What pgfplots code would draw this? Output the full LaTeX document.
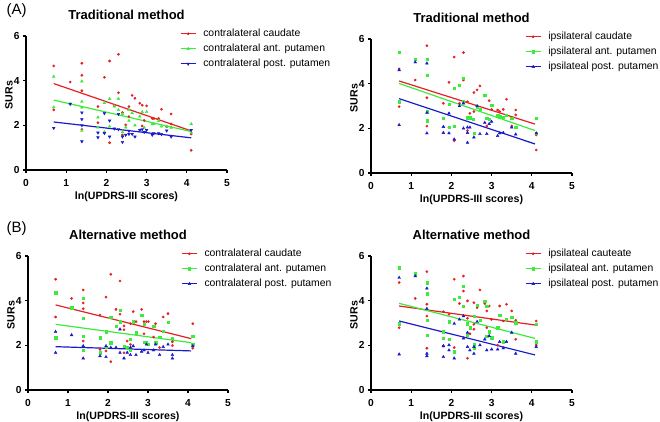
\documentclass[border=0pt]{standalone}
\usepackage{pgfplots}
\pgfplotsset{compat=1.18}
\usepackage{fontspec}
\setmainfont{Liberation Sans}
\definecolor{cred}{RGB}{232,30,36}
\definecolor{cgreen}{RGB}{60,235,60}
\definecolor{cblue}{RGB}{25,25,205}
\pgfplotsset{
  panel/.style={
    width=201pt, height=134pt, scale only axis,
    xmin=0, xmax=5, ymin=0, ymax=6,
    axis lines=left, axis line style={-, line width=1.1pt},
    xtick={0,1,...,5}, ytick={0,2,4,6},
    tick align=outside, major tick length=3pt,
    tick style={line width=1.1pt, black},
    /pgf/number format/assume math mode=true,
    ticklabel style={font=\bfseries\fontsize{10.2}{12}\selectfont},
    xticklabel style={yshift=-2.5pt},
    xlabel={ln(UPDRS-III scores)}, ylabel={SURs},
    label style={font=\bfseries\fontsize{10.6}{12}\selectfont},
    xlabel style={at={(axis description cs:0.5,-0.197)}, anchor=center},
    ylabel style={at={(axis description cs:-0.085,0.56)}, anchor=center},
    title style={at={(axis description cs:0.5,1.112)}, anchor=center,
      font=\bfseries\fontsize{13}{15}\selectfont},
    legend style={at={(axis description cs:0.766,1.055)}, anchor=north west,
      draw=none, fill=none, inner sep=0pt, row sep=5pt, column sep=7pt,
      nodes={inner sep=0pt, text height=7.5pt, text depth=2.5pt,
        font=\fontsize{10.4}{12}\selectfont},
      font=\fontsize{10.4}{12}\selectfont},
    legend cell align=left,
    legend image code/.code={
      \draw[#1, line width=1.1pt] (0pt,0pt) -- (15pt,0pt);
      \draw[#1] plot coordinates {(7.5pt,0pt)};
    },
  },
  pr/.style={only marks, mark=*, mark size=1.15pt, color=cred},
  pgt/.style={only marks, mark=triangle*, mark size=1.6pt, color=cgreen},
  pgs/.style={only marks, mark=square*, mark size=1.15pt, color=cgreen},
  pbt/.style={only marks, mark=triangle*, mark size=1.6pt, color=cblue},
  pbd/.style={only marks, mark=triangle*, mark size=1.6pt, color=cblue, mark options={rotate=180}},
  fit/.style={line width=1.2pt, forget plot, mark=none},
}
\begin{document}
\begin{tikzpicture}[x=1pt,y=1pt]
\useasboundingbox (0,0) rectangle (660,422);
\node[anchor=west, font=\fontsize{15}{17}\selectfont] at (3,411) {(A)};
\node[anchor=west, font=\fontsize{15}{17}\selectfont] at (3,193.5) {(B)};

% (A) left
\begin{axis}[panel, at={(26pt,252pt)}, anchor=south west, title={Traditional method}]
\addplot[pr] coordinates {(0.69,4.66) (0.69,2.69) (1.10,3.94) (1.39,4.78) (1.39,4.24) (1.39,3.55) (1.39,1.82) (1.79,2.84) (1.79,2.12) (1.95,4.15) (1.95,1.67) (2.08,4.88) (2.08,1.22) (2.20,2.87) (2.30,5.18) (2.30,3.46) (2.40,2.57) (2.40,1.57) (2.48,2.02) (2.56,2.84) (2.56,2.39) (2.64,3.34) (2.71,3.21) (2.83,2.99) (2.89,2.90) (2.89,1.97) (2.94,2.22) (3.00,2.87) (3.14,2.31) (3.18,2.30) (3.30,2.31) (3.37,2.72) (3.50,1.94) (3.61,2.51) (3.61,2.06) (4.11,1.61) (4.11,0.88)};
\addlegendentry{contralateral caudate}
\addplot[pgt] coordinates {(0.69,4.18) (0.69,2.81) (1.10,2.95) (1.39,3.97) (1.39,3.06) (1.39,2.80) (1.39,1.76) (1.79,2.36) (1.79,1.91) (1.95,3.00) (1.95,1.70) (2.08,3.19) (2.08,1.95) (2.20,2.85) (2.30,3.19) (2.30,2.69) (2.40,2.50) (2.40,1.70) (2.48,1.91) (2.56,2.69) (2.56,2.21) (2.64,2.55) (2.71,2.00) (2.83,2.40) (2.89,2.60) (2.94,1.90) (3.00,2.60) (3.14,2.05) (3.18,2.06) (3.30,2.20) (3.37,1.95) (3.50,1.95) (3.61,1.90) (4.11,2.06) (4.11,1.67)};
\addlegendentry{contralateral ant. putamen}
\addplot[pbd] coordinates {(0.69,1.88) (1.10,2.96) (1.39,2.57) (1.39,2.27) (1.39,2.00) (1.39,1.28) (1.79,1.67) (1.79,1.46) (1.95,2.54) (1.95,1.65) (2.08,2.21) (2.08,1.49) (2.20,1.85) (2.30,2.50) (2.30,1.82) (2.40,1.25) (2.40,1.49) (2.48,1.57) (2.56,1.61) (2.56,1.75) (2.64,1.61) (2.71,1.49) (2.83,1.79) (2.89,1.82) (2.94,1.70) (3.00,1.79) (3.14,1.57) (3.18,1.64) (3.30,1.64) (3.37,1.60) (3.50,1.76) (3.61,1.49) (4.11,1.79)};
\addlegendentry{contralateral post. putamen}
\addplot[fit, cred] coordinates {(0.69,3.87) (4.11,1.75)};
\addplot[fit, cgreen] coordinates {(0.69,3.13) (4.11,1.72)};
\addplot[fit, cblue] coordinates {(0.69,2.15) (4.11,1.44)};
\end{axis}

% (A) right
\begin{axis}[panel, at={(371pt,249pt)}, anchor=south west, title={Traditional method}]
\addplot[pr] coordinates {(0.70,4.66) (0.70,2.97) (1.10,4.16) (1.39,5.70) (1.39,3.37) (1.39,2.10) (1.80,3.12) (1.94,4.06) (1.94,2.04) (2.07,5.19) (2.07,1.45) (2.20,3.12) (2.30,5.39) (2.30,4.16) (2.40,3.19) (2.40,1.90) (2.46,2.67) (2.56,3.60) (2.56,2.75) (2.64,3.72) (2.71,3.90) (2.83,3.45) (2.88,2.10) (2.94,3.24) (3.00,2.85) (3.15,2.82) (3.20,2.75) (3.29,2.85) (3.37,3.30) (3.50,2.10) (3.60,2.82) (3.60,2.60) (4.11,1.70) (4.11,1.03)};
\addlegendentry{ipsilateral caudate}
\addplot[pgs] coordinates {(0.70,5.40) (0.70,3.19) (1.10,5.09) (1.39,5.09) (1.39,4.37) (1.39,2.75) (1.39,2.34) (1.80,2.45) (1.94,3.07) (1.94,2.04) (2.07,3.79) (2.07,2.10) (2.20,3.94) (2.30,4.24) (2.30,3.22) (2.40,2.48) (2.46,2.48) (2.54,2.40) (2.56,1.78) (2.64,2.97) (2.71,2.85) (2.83,3.49) (2.88,2.45) (2.94,2.40) (3.00,3.04) (3.15,2.60) (3.20,2.52) (3.29,2.49) (3.37,2.60) (3.50,2.45) (3.60,2.04) (4.11,2.45) (4.11,1.78)};
\addlegendentry{ipsilateral ant. putamen}
\addplot[pbt] coordinates {(0.70,4.61) (0.70,2.15) (1.10,4.96) (1.39,4.91) (1.39,2.70) (1.39,1.78) (1.80,2.07) (1.80,1.80) (1.94,2.67) (1.94,1.78) (2.07,1.51) (2.20,3.00) (2.30,3.12) (2.30,2.00) (2.40,2.04) (2.40,1.80) (2.40,1.36) (2.46,2.04) (2.56,1.60) (2.64,3.00) (2.71,1.75) (2.83,2.25) (2.88,1.75) (2.94,2.20) (3.00,2.30) (3.15,1.66) (3.20,1.78) (3.29,1.80) (3.50,2.04) (3.60,1.73) (4.11,1.78)};
\addlegendentry{ipsilateal post. putamen}
\addplot[fit, cred] coordinates {(0.70,4.12) (4.08,2.19)};
\addplot[fit, cgreen] coordinates {(0.70,4.01) (4.08,1.90)};
\addplot[fit, cblue] coordinates {(0.70,3.33) (4.08,1.30)};
\end{axis}

% (B) left
\begin{axis}[panel, at={(28pt,32pt)}, anchor=south west, width=200pt, title={Alternative method}]
\addplot[pr] coordinates {(0.69,4.96) (0.69,3.27) (1.09,4.10) (1.38,4.48) (1.38,3.90) (1.38,3.64) (1.38,2.19) (1.80,3.36) (1.80,1.82) (1.95,4.16) (1.95,1.75) (2.07,5.18) (2.07,1.27) (2.20,3.61) (2.30,4.88) (2.30,3.39) (2.40,2.87) (2.40,2.70) (2.40,1.67) (2.48,2.19) (2.56,2.97) (2.56,2.04) (2.63,3.51) (2.70,3.06) (2.84,3.61) (2.90,3.06) (2.90,2.52) (2.96,3.06) (3.01,3.06) (3.14,2.37) (3.19,2.97) (3.29,1.90) (3.38,3.27) (3.50,3.42) (3.61,2.16) (3.61,1.99) (4.12,2.97) (4.12,1.87)};
\addlegendentry{contralateral caudate}
\addplot[pgs] coordinates {(0.69,4.36) (0.69,2.34) (1.09,3.69) (1.38,4.10) (1.38,3.21) (1.38,2.42) (1.38,1.78) (1.80,2.34) (1.80,1.67) (1.95,2.61) (1.95,1.93) (2.07,3.27) (2.07,2.12) (2.20,2.87) (2.30,3.57) (2.30,3.06) (2.40,1.97) (2.48,1.90) (2.56,2.27) (2.56,1.78) (2.63,3.06) (2.70,2.57) (2.84,3.36) (2.90,2.94) (2.90,2.15) (2.96,2.12) (3.00,2.04) (3.14,2.87) (3.19,2.12) (3.29,2.37) (3.38,2.64) (3.50,3.04) (3.61,2.31) (4.12,2.42) (4.12,2.04)};
\addlegendentry{contralateral ant. putamen}
\addplot[pbt] coordinates {(0.69,2.61) (0.69,1.67) (1.09,2.46) (1.38,1.97) (1.38,1.42) (1.80,1.52) (1.95,1.97) (1.95,1.48) (2.07,1.90) (2.20,1.90) (2.30,2.72) (2.30,1.67) (2.40,1.42) (2.48,1.67) (2.56,1.90) (2.56,1.57) (2.63,1.97) (2.70,1.57) (2.84,1.72) (2.90,1.78) (2.96,2.04) (3.00,1.67) (3.14,1.78) (3.19,2.04) (3.29,1.57) (3.38,1.93) (3.50,2.04) (3.61,1.57) (3.61,1.42) (4.12,1.97)};
\addlegendentry{contralateral post. putamen}
\addplot[fit, cred] coordinates {(0.69,3.81) (4.08,2.30)};
\addplot[fit, cgreen] coordinates {(0.69,2.94) (4.08,2.12)};
\addplot[fit, cblue] coordinates {(0.69,1.94) (4.08,1.75)};
\end{axis}

% (B) right
\begin{axis}[panel, at={(371pt,32pt)}, anchor=south west, title={Alternative method}]
\addplot[pr] coordinates {(0.70,4.81) (0.70,2.79) (1.10,4.10) (1.39,5.30) (1.39,3.84) (1.39,3.31) (1.39,1.87) (1.80,3.51) (1.80,1.97) (1.94,3.39) (1.94,2.27) (2.07,4.96) (2.07,1.90) (2.20,3.87) (2.30,5.10) (2.30,4.43) (2.40,3.99) (2.40,3.21) (2.40,1.42) (2.46,2.52) (2.56,3.91) (2.56,2.94) (2.56,2.72) (2.64,3.69) (2.71,4.48) (2.83,3.87) (2.88,3.54) (2.88,2.79) (2.94,3.76) (3.00,3.16) (3.15,2.01) (3.20,3.76) (3.29,3.09) (3.37,3.84) (3.50,3.54) (3.60,3.12) (3.60,2.27) (4.11,3.09) (4.11,2.01)};
\addlegendentry{ipsilateal cauteate}
\addplot[pgs] coordinates {(0.70,5.48) (0.70,2.97) (1.10,5.21) (1.39,4.81) (1.39,4.31) (1.39,3.12) (1.39,2.46) (1.80,2.61) (1.80,2.31) (1.94,3.06) (1.94,2.27) (2.07,4.06) (2.07,1.72) (2.20,4.16) (2.30,4.66) (2.30,3.76) (2.40,2.97) (2.40,2.46) (2.46,2.79) (2.56,3.31) (2.56,2.04) (2.56,1.90) (2.64,3.81) (2.71,3.12) (2.83,3.99) (2.88,3.76) (2.88,2.42) (2.94,2.61) (3.00,2.34) (3.15,2.79) (3.20,3.36) (3.29,2.16) (3.37,3.16) (3.50,3.27) (3.60,3.01) (4.11,2.94) (4.11,2.16)};
\addlegendentry{ipsilateal ant. putamen}
\addplot[pbt] coordinates {(0.70,5.03) (0.70,1.60) (1.10,5.10) (1.39,4.55) (1.39,3.64) (1.39,1.63) (1.39,1.52) (1.80,1.97) (1.80,1.48) (1.94,2.01) (1.94,1.78) (2.07,2.97) (2.07,1.42) (2.20,3.16) (2.30,3.31) (2.30,2.31) (2.40,1.93) (2.40,2.57) (2.46,1.78) (2.56,1.93) (2.56,1.63) (2.64,3.06) (2.71,2.01) (2.83,2.27) (2.88,1.78) (2.94,2.42) (3.00,1.82) (3.15,1.82) (3.20,2.16) (3.29,1.87) (3.37,2.16) (3.50,2.57) (3.60,1.63) (4.11,1.93)};
\addlegendentry{ipsilateal post. putamen}
\addplot[fit, cred] coordinates {(0.70,3.76) (4.08,2.91)};
\addplot[fit, cgreen] coordinates {(0.70,3.88) (4.08,2.31)};
\addplot[fit, cblue] coordinates {(0.70,3.09) (4.08,1.57)};
\end{axis}
\end{tikzpicture}
\end{document}
